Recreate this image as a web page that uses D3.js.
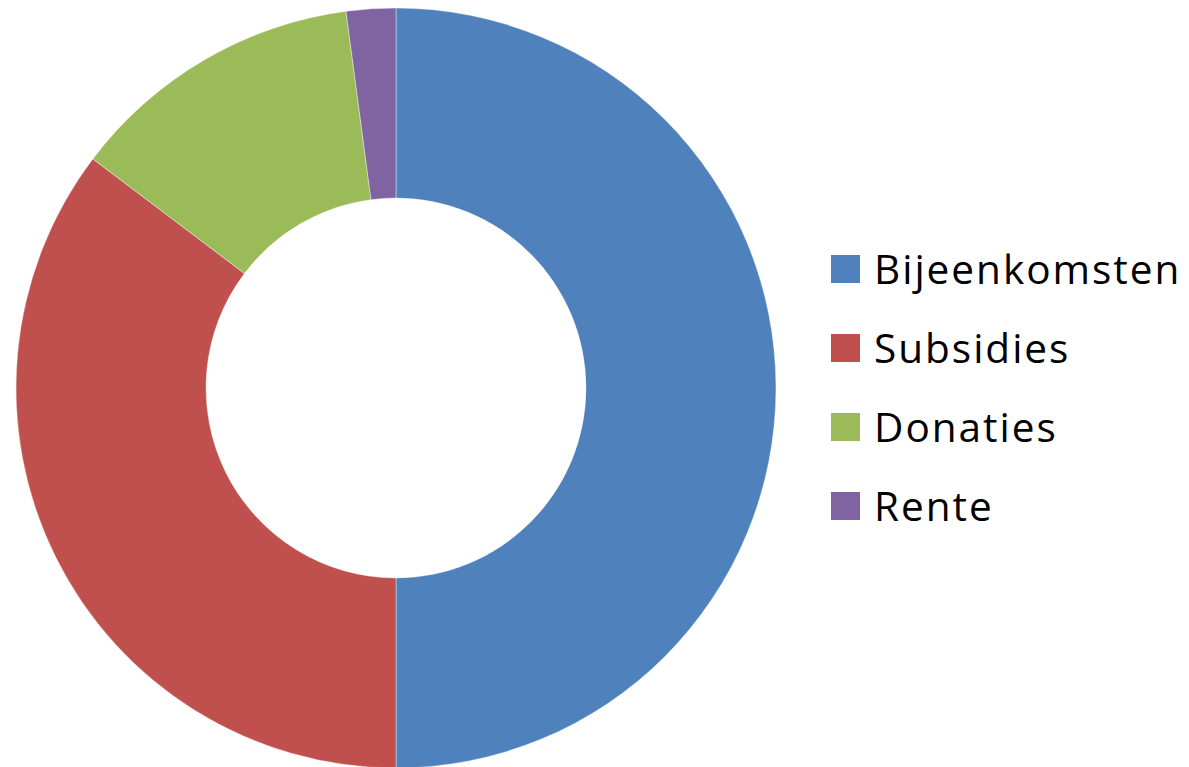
<!DOCTYPE html>
<html><head><meta charset="utf-8">
<script src="https://cdn.jsdelivr.net/npm/d3@7"></script>
<style>body{margin:0;background:#fff}svg{display:block}</style>
</head><body>
<svg id="c" width="1189" height="767"></svg>
<script>
const categories = ["Bijeenkomsten", "Subsidies", "Donaties", "Rente"];
const values = [50.0, 35.3, 12.6, 2.1];
const colors = ["#4F81BD", "#C0504D", "#9BBB59", "#8064A2"];

const svg = d3.select("#c");
const cx = 396, cy = 388, rOuter = 380, rInner = 190;
const data = categories.map((c, i) => ({name: c, value: values[i], color: colors[i]}));
const pie = d3.pie().value(d => d.value).sort(null);
const arc = d3.arc().innerRadius(rInner).outerRadius(rOuter);
const g = svg.append("g").attr("transform", `translate(${cx},${cy})`);
g.selectAll("path").data(pie(data)).join("path")
  .attr("d", arc).attr("fill", d => d.data.color)
  .attr("stroke", "#fff").attr("stroke-width", 0.4);

const y = d3.scalePoint().domain(categories).range([284, 521]);
const lg = svg.append("g");
const rows = lg.selectAll("g").data(data).join("g")
  .attr("transform", d => `translate(0,${y(d.name)})`);
rows.append("rect").attr("x", 831).attr("y", -29).attr("width", 29).attr("height", 28)
  .attr("fill", d => d.color);
rows.append("text").attr("x", 874).attr("y", 0)
  .attr("font-family", "Open Sans, sans-serif").attr("font-size", 40.5)
  .attr("letter-spacing", 2)
  .attr("fill", "#000").text(d => d.name);
</script>
</body></html>
